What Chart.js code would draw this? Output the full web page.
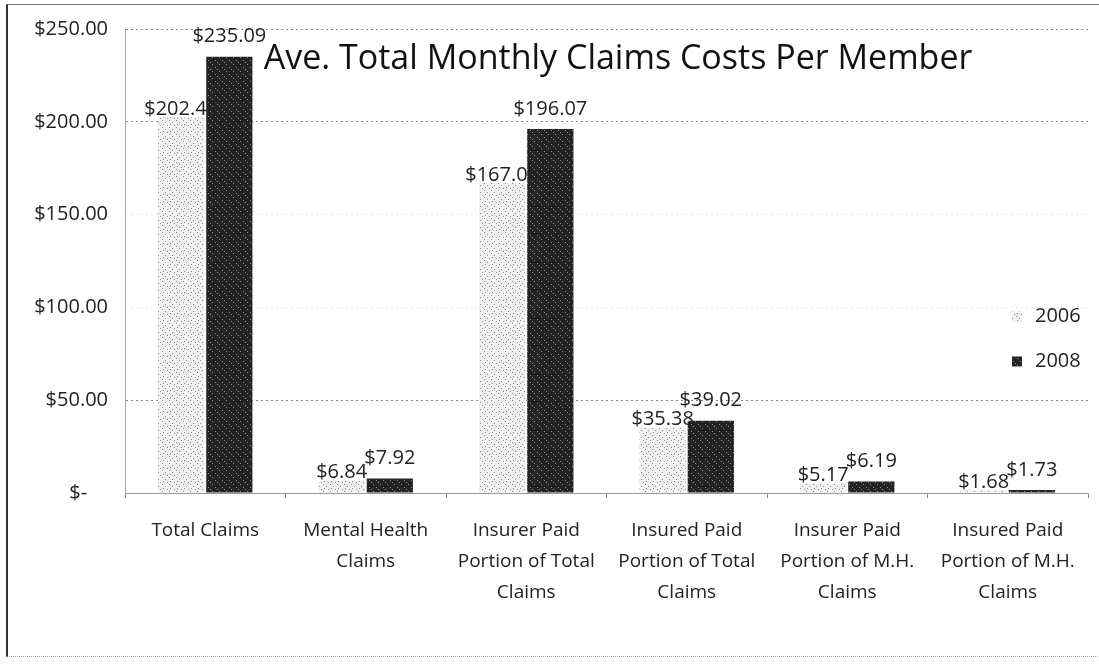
<!DOCTYPE html>
<html>
<head>
<meta charset="utf-8">
<script src="https://cdn.jsdelivr.net/npm/chart.js@4.4.1/dist/chart.umd.min.js"></script>
<style>
    html, body { margin: 0; padding: 0; background: #fff; }
    #wrap { position: relative; width: 1099px; height: 666px; }
    #frame {
        position: absolute; left: 6px; top: 4px; width: 1100px; height: 651px;
        border-left: 2px solid #333; border-top: 1px solid #777; border-bottom: 1px dotted #aaa;
        pointer-events: none;
    }
</style>
</head>
<body>
<div id="wrap">
    <canvas id="chart" width="1099" height="666"></canvas>
    <div id="frame"></div>
</div>
<script>
const chartTitle = "Ave. Total Monthly Claims Costs Per Member";
const categories = [
    ["Total Claims"],
    ["Mental Health", "Claims"],
    ["Insurer Paid", "Portion of Total", "Claims"],
    ["Insured Paid", "Portion of Total", "Claims"],
    ["Insurer Paid", "Portion of M.H.", "Claims"],
    ["Insured Paid", "Portion of M.H.", "Claims"],
];
const seriesNames = ["2006", "2008"];
const values2006 = [202.40, 6.84, 167.06, 35.38, 5.17, 1.68];
const values2008 = [235.09, 7.92, 196.07, 39.02, 6.19, 1.73];
const yTicks = [0, 50, 100, 150, 200, 250];

const FONT = "'Open Sans', sans-serif";

const canvas = document.getElementById("chart");
const ctx = canvas.getContext("2d");

// speckled fills, like the scanned print
function speckle(bg, dot, cells) {
    const c = document.createElement("canvas");
    c.width = 7;
    c.height = 7;
    const g = c.getContext("2d");
    g.fillStyle = bg;
    g.fillRect(0, 0, 7, 7);
    g.fillStyle = dot;
    cells.forEach(([x, y]) => g.fillRect(x, y, 1, 1));
    return ctx.createPattern(c, "repeat");
}
const fill2006 = speckle("#f1f1f1", "#8a8a8a", [[1, 1], [4, 3], [2, 5], [6, 6]]);
const fill2008 = speckle("#242424", "#8c8c8c", [[2, 1], [5, 4], [0, 6]]);

function money(v) {
    return v === 0 ? "$-    " : "$" + v.toFixed(2);
}

const titlePlugin = {
    id: "insideTitle",
    afterDraw(chart) {
        const { ctx, chartArea } = chart;
        ctx.save();
        ctx.font = "34px " + FONT;
        ctx.fillStyle = "#111";
        ctx.textAlign = "center";
        ctx.textBaseline = "middle";
        ctx.fillText(chartTitle, chartArea.left + (chartArea.right - chartArea.left) * 0.512, chartArea.top + 30);
        ctx.restore();
    },
};

const valueLabels = {
    id: "valueLabels",
    afterDatasetsDraw(chart) {
        const ctx = chart.ctx;
        ctx.save();
        ctx.font = "20px " + FONT;
        ctx.fillStyle = "#222";
        ctx.textAlign = "center";
        ctx.textBaseline = "middle";
        chart.data.datasets.forEach((ds, i) => {
            const lift = i === 0 ? 8 : 20;
            chart.getDatasetMeta(i).data.forEach((bar, j) => {
                ctx.fillText(money(ds.data[j]), bar.x, bar.y - lift);
            });
        });
        ctx.restore();
    },
};

// legend sits inside the plot, to the right, between $100 and $50
const sideLegend = {
    id: "sideLegend",
    afterDraw(chart) {
        const { ctx, chartArea, scales } = chart;
        ctx.save();
        ctx.font = "20px " + FONT;
        ctx.textBaseline = "middle";
        const x = chartArea.right - 76;
        chart.data.datasets.forEach((ds, i) => {
            const y = scales.y.getPixelForValue(100) + 9 + i * 45;
            ctx.fillStyle = ds.backgroundColor;
            ctx.fillRect(x, y - 5, 10, 10);
            ctx.fillStyle = "#222";
            ctx.textAlign = "left";
            ctx.fillText(ds.label, x + 23, y);
        });
        ctx.restore();
    },
};

new Chart(ctx, {
    type: "bar",
    data: {
        labels: categories,
        datasets: [
            {
                label: seriesNames[0],
                data: values2006,
                backgroundColor: fill2006,
                categoryPercentage: 0.6,
                barPercentage: 0.96,
            },
            {
                label: seriesNames[1],
                data: values2008,
                backgroundColor: fill2008,
                categoryPercentage: 0.6,
                barPercentage: 0.96,
            },
        ],
    },
    options: {
        responsive: false,
        animation: false,
        layout: { padding: { top: 29, left: 20, right: 11, bottom: 41 } },
        plugins: {
            legend: { display: false },
            tooltip: { enabled: false },
            title: { display: false },
        },
        scales: {
            x: {
                grid: {
                    display: true,
                    drawOnChartArea: false,
                    offset: true,
                    tickLength: 5,
                    color: "#888",
                },
                border: { display: true, color: "#999", dash: [2, 3] },
                ticks: {
                    color: "#222",
                    padding: 17,
                    maxRotation: 0,
                    font: { family: FONT, size: 19, lineHeight: 1.63 },
                },
            },
            y: {
                min: 0,
                max: 250,
                afterBuildTicks: (scale) => {
                    scale.ticks = yTicks.map((v) => ({ value: v }));
                },
                afterFit: (scale) => {
                    scale.width = 105;
                },
                grid: {
                    drawTicks: false,
                    color: (c) =>
                        c.tick && (c.tick.value === 100 || c.tick.value === 150)
                            ? "#ececec"
                            : "#8a8a8a",
                },
                border: { display: true, color: "#aaa", dash: [2, 3] },
                ticks: {
                    color: "#222",
                    padding: 17,
                    font: { family: FONT, size: 20 },
                    callback: (v) => money(v),
                },
            },
        },
    },
    plugins: [valueLabels, titlePlugin, sideLegend],
});
</script>
</body>
</html>
